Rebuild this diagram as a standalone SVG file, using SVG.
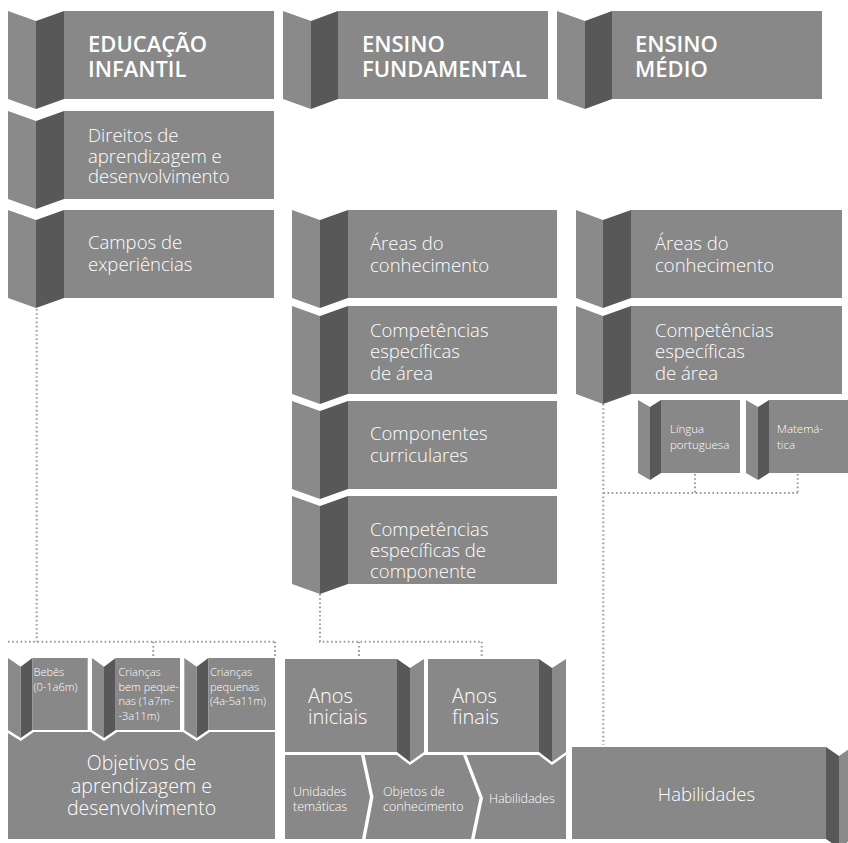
<svg xmlns="http://www.w3.org/2000/svg" width="848" height="843" viewBox="0 0 848 843">
<style>
.m{fill:#888888}
.l{fill:#8a8a8a}
.d{fill:#585858}
.w{fill:#ffffff;stroke:#ffffff;stroke-width:5;stroke-linejoin:miter}
.h{font-family:"Open Sans","Liberation Sans",sans-serif;font-weight:600;font-size:22px;fill:#ffffff}
.t{font-family:"Open Sans","Liberation Sans",sans-serif;font-weight:300;font-size:18.5px;fill:#ffffff}
.s{font-family:"Open Sans","Liberation Sans",sans-serif;font-weight:300;font-size:11px;fill:#ffffff}
.u{font-family:"Open Sans","Liberation Sans",sans-serif;font-weight:300;font-size:12.5px;fill:#ffffff}
.c{fill:none;stroke:#9a9a9a;stroke-width:2;stroke-dasharray:1.6 2.6}
</style>
<rect width="848" height="843" fill="#ffffff"/>

<g id="connectors">
<path class="c" d="M36.7,309 V641.7 M8,641.7 H275 M153.3,641.7 V657 M275,641.7 V657"/>
<path class="c" d="M320,594 V641.7 H481.7 M359,641.7 V658 M481.7,641.7 V658"/>
<path class="c" d="M603.3,404 V745 M603.3,493 H797.7 M695,474 V493 M797.7,474 V493"/>
</g>

<g id="educacao-infantil">
<polygon class="l" points="8,11 36,21 36,109 8,99"/>
<polygon class="d" points="36,21 64,11 64,99 36,109"/>
<rect class="m" x="64" y="11" width="210" height="88"/>
<text class="h" x="88" y="52">EDUCAÇÃO<tspan x="88" dy="25">INFANTIL</tspan></text>
</g>

<g id="ensino-fundamental">
<polygon class="l" points="283,11 311,21 311,109 283,99"/>
<polygon class="d" points="311,21 338,11 338,99 311,109"/>
<rect class="m" x="338" y="11" width="210" height="88"/>
<text class="h" x="362" y="52">ENSINO<tspan x="362" dy="25">FUNDAMENTAL</tspan></text>
</g>

<g id="ensino-medio">
<polygon class="l" points="557,11 585,21 585,109 557,99"/>
<polygon class="d" points="585,21 612,11 612,99 585,109"/>
<rect class="m" x="612" y="11" width="210" height="88"/>
<text class="h" x="635" y="52">ENSINO<tspan x="635" dy="25">MÉDIO</tspan></text>
</g>

<g id="direitos">
<polygon class="l" points="8,111 36,121 36,209 8,199"/>
<polygon class="d" points="36,121 64,111 64,199 36,209"/>
<rect class="m" x="64" y="111" width="210" height="88"/>
<text class="t" x="88" y="142">Direitos de<tspan x="88" dy="20.5">aprendizagem e</tspan><tspan x="88" dy="20.5">desenvolvimento</tspan></text>
</g>

<g id="campos">
<polygon class="l" points="8,210 36,220 36,308 8,298"/>
<polygon class="d" points="36,220 64,210 64,298 36,308"/>
<rect class="m" x="64" y="210" width="210" height="88"/>
<text class="t" x="88" y="249">Campos de<tspan x="88" dy="22">experiências</tspan></text>
</g>

<g id="ef-areas">
<polygon class="l" points="292,210 320,220 320,308 292,298"/>
<polygon class="d" points="320,220 348,210 348,298 320,308"/>
<rect class="m" x="348" y="210" width="209" height="88"/>
<text class="t" x="370" y="250">Áreas do<tspan x="370" dy="21.5">conhecimento</tspan></text>
</g>

<g id="ef-competencias-area">
<polygon class="l" points="292,306 320,316 320,404 292,394"/>
<polygon class="d" points="320,316 348,306 348,394 320,404"/>
<rect class="m" x="348" y="306" width="209" height="88"/>
<text class="t" x="370" y="336.5">Competências<tspan x="370" dy="21.5">específicas</tspan><tspan x="370" dy="21.5">de área</tspan></text>
</g>

<g id="ef-componentes">
<polygon class="l" points="292,401 320,411 320,499 292,489"/>
<polygon class="d" points="320,411 348,401 348,489 320,499"/>
<rect class="m" x="348" y="401" width="209" height="88"/>
<text class="t" x="370" y="440">Componentes<tspan x="370" dy="21.5">curriculares</tspan></text>
</g>

<g id="ef-competencias-componente">
<polygon class="l" points="292,496 320,506 320,594 292,584"/>
<polygon class="d" points="320,506 348,496 348,584 320,594"/>
<rect class="m" x="348" y="496" width="209" height="88"/>
<text class="t" x="370" y="535.5">Competências<tspan x="370" dy="21">específicas de</tspan><tspan x="370" dy="21">componente</tspan></text>
</g>

<g id="em-areas">
<polygon class="l" points="576,210 603,220 603,308 576,298"/>
<polygon class="d" points="603,220 631,210 631,298 603,308"/>
<rect class="m" x="631" y="210" width="211" height="88"/>
<text class="t" x="655" y="250">Áreas do<tspan x="655" dy="21.5">conhecimento</tspan></text>
</g>

<g id="em-competencias-area">
<polygon class="l" points="576,306 603,316 603,404 576,394"/>
<polygon class="d" points="603,316 631,306 631,394 603,404"/>
<rect class="m" x="631" y="306" width="211" height="88"/>
<text class="t" x="655" y="336.5">Competências<tspan x="655" dy="21.5">específicas</tspan><tspan x="655" dy="21.5">de área</tspan></text>
</g>

<g id="lingua-portuguesa">
<polygon class="l" points="638,400 650,407 650,480 638,473"/>
<polygon class="d" points="650,407 661,400 661,473 650,480"/>
<rect class="m" x="661" y="400" width="79" height="73"/>
<text class="s" x="670" y="433" style="font-size:11.5px">Língua<tspan x="670" dy="16">portuguesa</tspan></text>
</g>

<g id="matematica">
<polygon class="l" points="746,400 758,407 758,480 746,473"/>
<polygon class="d" points="758,407 769,400 769,473 758,480"/>
<rect class="m" x="769" y="400" width="79" height="73"/>
<text class="s" x="777" y="433" style="font-size:11.5px">Matemá-<tspan x="777" dy="16">tica</tspan></text>
</g>

<g id="objetivos">
<rect class="m" x="8" y="732" width="267" height="107"/>
<text class="t" x="141.5" y="770" text-anchor="middle" style="font-size:19.5px">Objetivos de<tspan x="141.5" dy="22.5">aprendizagem e</tspan><tspan x="141.5" dy="22.5">desenvolvimento</tspan></text>
</g>

<g id="bebes">
<polygon class="w" points="8,658 20.7,666.7 32.3,658 32.3,730 20.7,738 8,730"/>
<polygon class="l" points="8,658 20.7,666.7 20.7,738 8,730"/>
<polygon class="d" points="20.7,666.7 32.3,658 32.3,730 20.7,738"/>
<rect class="m" x="32.3" y="658" width="55.4" height="72"/>
<text class="s" x="33.5" y="676">Bebês<tspan x="33.5" dy="14.5">(0-1a6m)</tspan></text>
</g>

<g id="criancas-bem-pequenas">
<polygon class="w" points="92,658 104,666.7 115.7,658 115.7,730 104,738 92,730"/>
<polygon class="l" points="92,658 104,666.7 104,738 92,730"/>
<polygon class="d" points="104,666.7 115.7,658 115.7,730 104,738"/>
<rect class="m" x="115.7" y="658" width="64.3" height="72"/>
<text class="s" x="118.5" y="676">Crianças<tspan x="118.5" dy="14.5">bem peque-</tspan><tspan x="118.5" dy="14.5">nas (1a7m-</tspan><tspan x="118.5" dy="14.5">-3a11m)</tspan></text>
</g>

<g id="criancas-pequenas">
<polygon class="w" points="184.3,658 196.7,666.7 208.3,658 208.3,730 196.7,738 184.3,730"/>
<polygon class="l" points="184.3,658 196.7,666.7 196.7,738 184.3,730"/>
<polygon class="d" points="196.7,666.7 208.3,658 208.3,730 196.7,738"/>
<rect class="m" x="208.3" y="658" width="66.7" height="72"/>
<text class="s" x="210" y="676">Crianças<tspan x="210" dy="14.5">pequenas</tspan><tspan x="210" dy="14.5">(4a-5a11m)</tspan></text>
</g>

<g id="unidades-tematicas">
<polygon class="m" points="285,755 361,755 370,797 362,839 285,839"/>
<text class="u" x="293" y="796">Unidades<tspan x="293" dy="15">temáticas</tspan></text>
</g>

<g id="objetos-conhecimento">
<polygon class="m" points="364.5,755 463,755 479.5,798 471,839 365.5,839 373.5,797"/>
<text class="u" x="383" y="796">Objetos de<tspan x="383" dy="14.5">conhecimento</tspan></text>
</g>

<g id="ef-habilidades">
<polygon class="m" points="466.5,755 566,755 566,839 474.5,839 483,798"/>
<text class="u" x="489" y="803">Habilidades</text>
</g>

<g id="anos-iniciais">
<polygon class="w" points="397,659 410,668 424,659 424,752 410,762 397,752"/>
<rect class="m" x="285" y="659" width="112" height="93"/>
<polygon class="d" points="397,659 410,668 410,762 397,752"/>
<polygon class="l" points="410,668 424,659 424,752 410,762"/>
<text class="t" x="308" y="703" style="font-size:20px">Anos<tspan x="308" dy="20.5">iniciais</tspan></text>
</g>

<g id="anos-finais">
<polygon class="w" points="539,659 552,668 566,659 566,752 552,762 539,752"/>
<rect class="m" x="428" y="659" width="111" height="93"/>
<polygon class="d" points="539,659 552,668 552,762 539,752"/>
<polygon class="l" points="552,668 566,659 566,752 552,762"/>
<text class="t" x="452" y="703" style="font-size:20px">Anos<tspan x="452" dy="20.5">finais</tspan></text>
</g>

<g id="em-habilidades">
<rect class="m" x="572" y="747" width="254" height="92"/>
<polygon class="d" points="826,747 839,756 839,848 826,839"/>
<polygon class="l" points="839,756 852,747 852,839 839,848"/>
<text class="t" x="706.5" y="801" text-anchor="middle">Habilidades</text>
</g>
</svg>
